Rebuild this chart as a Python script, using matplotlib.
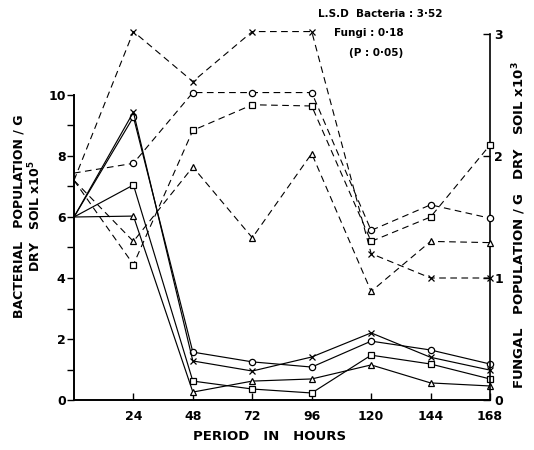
import matplotlib
matplotlib.use("Agg")
import matplotlib.pyplot as plt
from matplotlib.ticker import FixedLocator

hours = [0, 24, 48, 72, 96, 120, 144, 168]
xtick_labels = ["24", "48", "72", "96", "120", "144", "168"]

# Bacterial population (x10^5 / g dry soil) - solid lines, left axis
bac_circle = [6.0, 9.28, 1.57, 1.25, 1.08, 1.93, 1.64, 1.18]
bac_cross = [6.0, 9.44, 1.28, 0.95, 1.41, 2.20, 1.40, 0.98]
bac_square = [6.0, 7.05, 0.62, 0.36, 0.23, 1.47, 1.18, 0.69]
bac_triangle = [6.0, 6.03, 0.26, 0.62, 0.69, 1.15, 0.56, 0.46]

# Fungal population (x10^3 / g dry soil) - dashed lines, right axis
fun_circle = [1.86, 1.94, 2.52, 2.52, 2.52, 1.39, 1.60, 1.49]
fun_cross = [1.80, 3.02, 2.61, 3.02, 3.02, 1.20, 1.00, 1.00]
fun_square = [1.80, 1.11, 2.21, 2.42, 2.41, 1.30, 1.50, 2.09]
fun_triangle = [1.80, 1.30, 1.91, 1.33, 2.02, 0.89, 1.30, 1.29]

W, H = 534, 450
fig = plt.figure(figsize=(W / 100, H / 100), dpi=100)
ax = fig.add_axes([74 / W, 1 - 400 / H, (490 - 74) / W, (400 - 34) / H])
ax2 = ax.twinx()

bold = dict(fontweight="bold", family="DejaVu Sans")

series_b = [(bac_circle, "o", 4.5), (bac_cross, "x", 5), (bac_square, "s", 4.5), (bac_triangle, "^", 4.5)]
for ys, m, ms in series_b:
    ax.plot(hours, ys, color="black", lw=0.85, marker=m, ms=ms, mfc="white", mec="black",
            mew=0.9, markevery=slice(1, None), clip_on=False, zorder=3)

series_f = [(fun_circle, "o", 4.5), (fun_cross, "x", 5), (fun_square, "s", 4.5), (fun_triangle, "^", 4.5)]
for ys, m, ms in series_f:
    ax2.plot(hours, ys, color="black", lw=0.8, ls=(0, (6, 4)), marker=m, ms=ms, mfc="white",
             mec="black", mew=0.9, markevery=slice(1, None), clip_on=False, zorder=3)

ax.set_xlim(0, 168)
ax.set_ylim(0, 12)
ax2.set_ylim(0, 3)

for a in (ax, ax2):
    a.spines["top"].set_visible(False)
    a.patch.set_visible(False)
ax.spines["right"].set_visible(False)
ax2.spines["left"].set_visible(False)
ax2.spines["bottom"].set_visible(False)
ax.spines["left"].set_bounds(0, 10)
for s in ("left", "bottom"):
    ax.spines[s].set_linewidth(1.4)
ax2.spines["right"].set_linewidth(1.2)

ax.set_xticks(hours[1:])
ax.set_xticklabels(xtick_labels, **bold, fontsize=9)
ax.tick_params(axis="x", direction="in", length=5, width=1.0, pad=7)

ax.yaxis.set_major_locator(FixedLocator([0, 2, 4, 6, 8, 10]))
ax.yaxis.set_minor_locator(FixedLocator([1, 3, 5, 7, 9]))
ax.set_yticklabels(["0", "2", "4", "6", "8", "10"], **bold, fontsize=9)
ax.tick_params(axis="y", which="both", direction="out", length=5, width=1.0, pad=1)

ax2.set_yticks([0, 1, 2, 3])
ax2.set_yticklabels(["0", "1", "2", "3"], **bold, fontsize=9)
ax2.tick_params(axis="y", direction="in", length=5, width=1.0, pad=3)

fig.text(270 / W, 1 - 437 / H, "PERIOD   IN   HOURS", ha="center", va="center", fontsize=9.5, **bold)
fig.text(28 / W, 1 - 216 / H, "BACTERIAL   POPULATION / G\nDRY   SOIL x10$^{\\mathbf{5}}$",
         ha="center", va="center", rotation=90, multialignment="center", fontsize=9,
         linespacing=1.1, **bold)
fig.text(519 / W, 1 - 225 / H, "FUNGAL   POPULATION / G   DRY   SOIL x10$^{\\mathbf{3}}$",
         ha="center", va="center", rotation=90, fontsize=9.5, **bold)

fig.text(380 / W, 1 - 14 / H, "L.S.D  Bacteria : 3·52", ha="center", va="center", fontsize=7.5, **bold)
fig.text(369 / W, 1 - 33 / H, "Fungi : 0·18", ha="center", va="center", fontsize=7.5, **bold)
fig.text(376 / W, 1 - 53 / H, "(P : 0·05)", ha="center", va="center", fontsize=7.5, **bold)

fig.savefig("out.png", dpi=100)
